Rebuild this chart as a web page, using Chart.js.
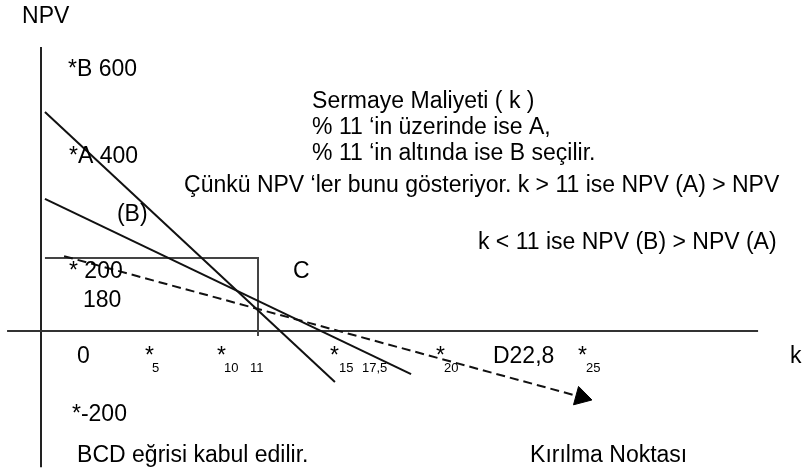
<!DOCTYPE html>
<html>
<head>
<meta charset="utf-8">
<script src="https://cdn.jsdelivr.net/npm/chart.js@4/dist/chart.umd.min.js"></script>
<style>
  html, body { margin: 0; padding: 0; background: #ffffff; }
  #wrap { width: 809px; height: 474px; position: relative; }
</style>
</head>
<body>
<div id="wrap"><canvas id="c" width="809" height="474"></canvas></div>
<script>
// ---- data (k = sermaye maliyeti %, NPV) ----
const lineA = [{x: 0.2, y: 600}, {x: 14.9, y: -140}];
const lineB = [{x: 0.2, y: 362}, {x: 18.76, y: -118}];
const breakEvenLine = [{x: 1.17, y: 205}, {x: 27.39, y: -181}];
const rectBC = [{x: 0.2, y: 200}, {x: 11, y: 200}, {x: 11, y: -14}];
const kAxis = [{x: -1.72, y: 0}, {x: 36.35, y: 0}];
const npvAxis = [{x: 0, y: 778}, {x: 0, y: -373}];

// tick-like labels drawn on the sketch
const starTicks = [5.27, 8.92, 14.65, 20.02, 27.22];
const subTickLabels = ['5', '10', '11', '15', '17,5', '20', '25'];
const subTickPos = [5.63, 9.28, 10.6, 15.11, 16.27, 20.43, 27.63];

// annotation texts
const notes = [
  {t: 'NPV', x: -0.96, y: 844},
  {t: '*B 600', x: 1.37, y: 699},
  {t: '*A 400', x: 1.42, y: 460},
  {t: 'Sermaye Maliyeti ( k )', x: 13.74, y: 611},
  {t: '% 11 \u2018in üzerinde ise A,', x: 13.74, y: 540},
  {t: '% 11 \u2018in altında ise B seçilir.', x: 13.74, y: 468},
  {t: 'Çünkü NPV \u2018ler bunu gösteriyor. k > 11 ise NPV (A) > NPV', x: 7.25, y: 381},
  {t: '(B)', x: 3.85, y: 301},
  {t: 'k < 11 ise NPV (B) > NPV (A)', x: 22.15, y: 225},
  {t: '* 200', x: 1.42, y: 145},
  {t: 'C', x: 12.77, y: 145},
  {t: '180', x: 2.13, y: 66},
  {t: '0', x: 1.83, y: -88},
  {t: 'D22,8', x: 22.91, y: -88},
  {t: 'k', x: 37.97, y: -88},
  {t: '*-200', x: 1.57, y: -247},
  {t: 'BCD eğrisi kabul edilir.', x: 1.83, y: -359},
  {t: 'Kırılma Noktası', x: 24.79, y: -359}
];
const starY = -88;
const subY = -113;

const FONT = '"Liberation Sans", Arial, Helvetica, sans-serif';

const textPlugin = {
  id: 'sketchText',
  afterDatasetsDraw(chart) {
    const {ctx, scales: {x, y}} = chart;
    ctx.save();
    ctx.fillStyle = '#000';
    ctx.textAlign = 'left';
    ctx.textBaseline = 'alphabetic';
    ctx.font = '23px ' + FONT;
    notes.forEach(n => ctx.fillText(n.t, x.getPixelForValue(n.x), y.getPixelForValue(n.y)));
    starTicks.forEach(v => ctx.fillText('*', x.getPixelForValue(v), y.getPixelForValue(starY)));
    ctx.font = '13px ' + FONT;
    subTickLabels.forEach((s, i) => ctx.fillText(s, x.getPixelForValue(subTickPos[i]), y.getPixelForValue(subY)));
    ctx.restore();
  }
};

const base = {showLine: true, tension: 0, pointRadius: 0, fill: false};

new Chart(document.getElementById('c'), {
  type: 'scatter',
  data: {
    datasets: [
      {...base, data: lineA, borderColor: '#111', borderWidth: 2},
      {...base, data: lineB, borderColor: '#111', borderWidth: 2},
      {...base, data: breakEvenLine, borderColor: '#111', borderWidth: 2, borderDash: [9, 5],
        pointRadius: [0, 11], pointStyle: 'triangle', rotation: 105.3,
        pointBackgroundColor: '#000', pointBorderColor: '#000', pointBorderWidth: 1},
      {...base, data: rectBC, borderColor: '#444', borderWidth: 2},
      {...base, data: kAxis, borderColor: '#333', borderWidth: 2},
      {...base, data: npvAxis, borderColor: '#222', borderWidth: 2}
    ]
  },
  options: {
    responsive: false,
    animation: false,
    events: [],
    layout: {padding: 0, autoPadding: false},
    plugins: {legend: {display: false}, tooltip: {enabled: false}},
    scales: {
      x: {type: 'linear', display: false, min: -2.0784, max: 38.931},
      y: {type: 'linear', display: false, min: -391.78, max: 906.85}
    }
  },
  plugins: [textPlugin]
});
</script>
</body>
</html>
